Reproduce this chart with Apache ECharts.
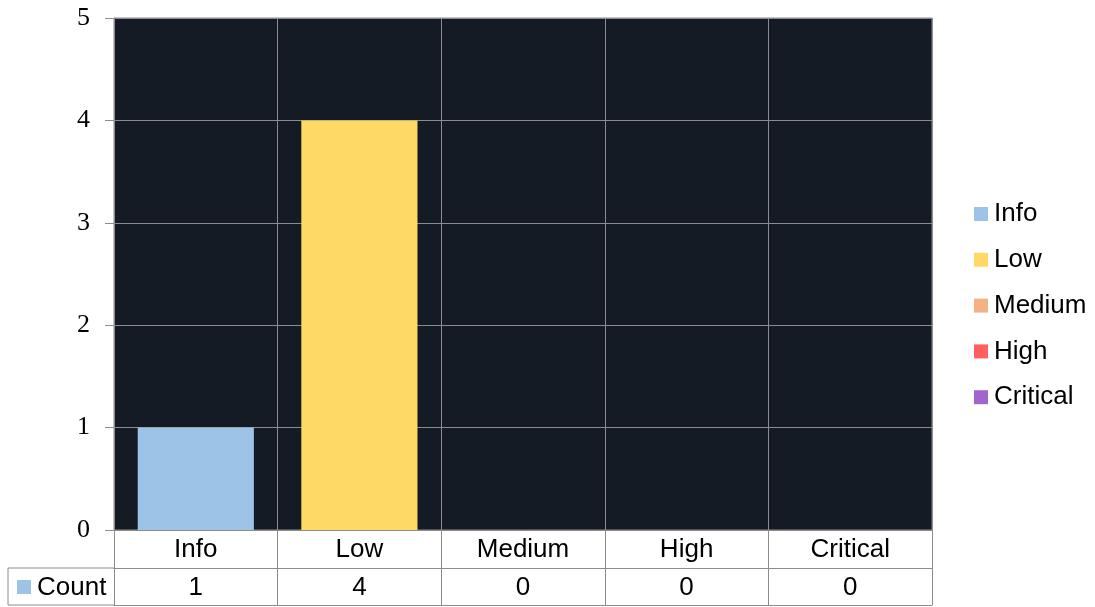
<!DOCTYPE html>
<html>
<head>
<meta charset="utf-8">
<script src="https://cdn.jsdelivr.net/npm/echarts@6/dist/echarts.min.js"></script>
<style>
html,body{margin:0;padding:0;background:#fff;}
#c{width:1095px;height:607px;}
</style>
</head>
<body>
<div id="c"></div>
<script>
const categories = ['Info', 'Low', 'Medium', 'High', 'Critical'];
const counts = [1, 4, 0, 0, 0];
const colors = ['#9DC3E6', '#FFD966', '#F4B183', '#FF5F5F', '#A066CC'];
const yTicks = [0, 1, 2, 3, 4, 5];
const rowLabel = 'Count';

const GRID = {left: 114, right: 163, top: 18, bottom: 77};
const ROW = 38;
const gridColor = '#8C8C8C';
const sans = 'Liberation Sans, Arial, sans-serif';
const FS = 26;

const chart = echarts.init(document.getElementById('c'));

const series = categories.map((name, i) => ({
  name: name,
  type: 'bar',
  stack: 'all',
  barWidth: '71%',
  itemStyle: {color: colors[i]},
  data: counts.map((v, j) => j === i ? v : '-')
}));

const tableTop = 607 - GRID.bottom;

chart.setOption({
  animation: false,
  grid: {left: GRID.left, right: GRID.right, top: GRID.top, bottom: GRID.bottom,
    show: true, backgroundColor: '#141B25', borderColor: gridColor, borderWidth: 1},
  legend: {
    orient: 'vertical', left: 969, top: 196, itemGap: 19.8,
    itemWidth: 14, itemHeight: 14, icon: 'rect',
    data: categories,
    textStyle: {fontSize: FS, fontFamily: sans, color: '#000', padding: [0, 0, 0, 1]}
  },
  xAxis: [
    {type: 'category', data: categories, position: 'bottom',
      axisLine: {show: true, lineStyle: {color: gridColor}},
      axisTick: {show: true, length: ROW, interval: 0, lineStyle: {color: gridColor}},
      splitLine: {show: true, interval: 0, lineStyle: {color: gridColor}},
      axisLabel: {interval: 0, margin: 7, fontSize: FS, fontFamily: sans, color: '#000'}},
    {type: 'category', data: categories, position: 'bottom', offset: ROW,
      axisLine: {show: true, lineStyle: {color: gridColor}},
      axisTick: {show: true, length: ROW - 1, interval: 0, lineStyle: {color: gridColor}},
      splitLine: {show: false},
      axisLabel: {interval: 0, margin: 7, fontSize: FS, fontFamily: sans, color: '#000',
        formatter: (v, i) => String(counts[i])}},
    {type: 'category', data: categories, position: 'bottom', offset: 2 * ROW - 1,
      axisLine: {show: true, lineStyle: {color: gridColor}},
      axisTick: {show: false}, splitLine: {show: false}, axisLabel: {show: false}}
  ],
  yAxis: {
    type: 'value', min: yTicks[0], max: yTicks[yTicks.length - 1], interval: 1,
    axisLine: {show: true, lineStyle: {color: gridColor}},
    axisTick: {show: true, length: 9, lineStyle: {color: gridColor}},
    splitLine: {show: true, lineStyle: {color: gridColor}},
    axisLabel: {margin: 24, fontSize: 26, fontFamily: 'Liberation Serif, DejaVu Serif, serif', color: '#000',
      padding: [6, 0, 0, 0]}
  },
  graphic: [
    {type: 'line', shape: {x1: 8, y1: tableTop + ROW, x2: GRID.left, y2: tableTop + ROW},
      style: {stroke: gridColor, lineWidth: 1}},
    {type: 'line', shape: {x1: 8, y1: tableTop + 2 * ROW - 1, x2: GRID.left, y2: tableTop + 2 * ROW - 1},
      style: {stroke: gridColor, lineWidth: 1}},
    {type: 'line', shape: {x1: 8, y1: tableTop + ROW, x2: 8, y2: tableTop + 2 * ROW - 1},
      style: {stroke: gridColor, lineWidth: 1}},
    {type: 'rect', shape: {x: 17, y: 580, width: 14, height: 14}, style: {fill: colors[0]}},
    {type: 'text', x: 37, y: 588, style: {text: rowLabel, font: FS + 'px ' + sans, fill: '#000',
      verticalAlign: 'middle'}}
  ],
  series: series
});
</script>
</body>
</html>
